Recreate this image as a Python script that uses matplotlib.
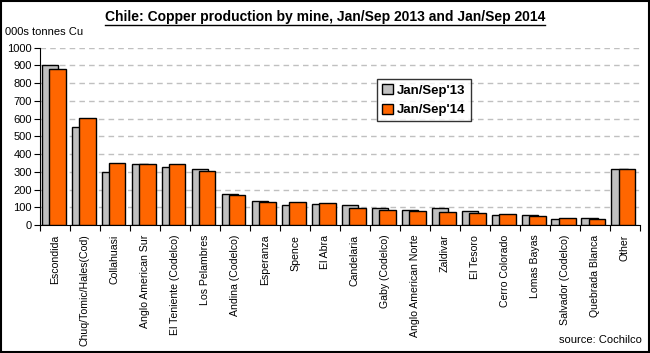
import matplotlib
matplotlib.use("Agg")
import matplotlib.pyplot as plt
import numpy as np

# mine names and production (000s tonnes Cu), Jan/Sep 2013 vs Jan/Sep 2014
mines = ["Escondida", "Chuq/Tomic/Hales(Cod)", "Collahuasi", "Anglo American Sur",
         "El Teniente (Codelco)", "Los Pelambres", "Andina (Codelco)", "Esperanza",
         "Spence", "El Abra", "Candelaria", "Gaby (Codelco)", "Anglo American Norte",
         "Zaldivar", "El Tesoro", "Cerro Colorado", "Lomas Bayas", "Salvador (Codelco)",
         "Quebrada Blanca", "Other"]
prod_2013 = [900, 551, 297, 342, 325, 314, 173, 133, 111, 116,
             111, 94, 83, 94, 77, 54, 54, 32, 38, 314]
prod_2014 = [877, 601, 348, 342, 342, 303, 167, 128, 128, 122,
             94, 83, 77, 71, 66, 60, 49, 38, 32, 314]
yticks = np.arange(0, 1001, 100)

plt.rcParams['font.family'] = ['Liberation Sans', 'DejaVu Sans']

fig = plt.figure(figsize=(6.5, 3.53), dpi=100, facecolor='w')
ax = fig.add_axes([40/650, 1-225/353, 600/650, 177.4/353])

x = np.arange(len(mines))
w = 0.56
ax.bar(x - 0.17, prod_2013, w, color='#C0C0C0', edgecolor='black', linewidth=1,
       label="Jan/Sep'13", zorder=2)
ax.bar(x + 0.07, prod_2014, w, color='#FF6600', edgecolor='black', linewidth=1,
       label="Jan/Sep'14", zorder=3)

ax.set_xlim(-0.5, len(mines) - 0.5)
ax.set_ylim(0, 1000)
ax.set_yticks(yticks)
ax.tick_params(axis='y', labelsize=8, length=4, direction='out', pad=2)
ax.yaxis.grid(True, linestyle=(0, (4, 3)), color='#C0C0C0', linewidth=1, zorder=0)
ax.set_axisbelow(True)

# category ticks between bars, labels centred under each group
ax.set_xticks(np.arange(-0.5, len(mines), 1.0))
ax.set_xticklabels([])
ax.set_xticks(x, minor=True)
ax.set_xticklabels(mines, minor=True, rotation=90, fontsize=7.6, va='top')
ax.tick_params(axis='x', which='major', length=4, direction='out')
ax.tick_params(axis='x', which='minor', length=0, pad=7)

for s in ['top', 'right']:
    ax.spines[s].set_visible(False)

leg = ax.legend(loc='upper left', bbox_to_anchor=(337/600, (225-79)/177.4),
                borderaxespad=0, frameon=True, fancybox=False, edgecolor='black',
                prop={'weight': 'bold', 'size': 9.5}, handlelength=0.8,
                handleheight=0.8, handletextpad=0.3, borderpad=0.4, labelspacing=0.5)
leg.get_frame().set_linewidth(1)

title = fig.text(0.5, 1-17/353, "Chile: Copper production by mine, Jan/Sep 2013 and Jan/Sep 2014",
                 ha='center', va='center', fontsize=10, fontweight='bold')
fig.text(5/650, 1-32/353, "000s tonnes Cu", ha='left', va='center', fontsize=8)
fig.text(642/650, 1-340/353, "source: Cochilco", ha='right', va='center', fontsize=8)

# underline the title using its rendered extent
fig.canvas.draw()
bb = title.get_window_extent().transformed(fig.transFigure.inverted())
fig.add_artist(plt.Line2D([bb.x0, bb.x1], [bb.y0 - 0.004, bb.y0 - 0.004],
                          color='black', linewidth=1))

# outer border
fig.add_artist(plt.Rectangle((0.001, 0.002), 0.997, 0.996, transform=fig.transFigure,
                             fill=False, edgecolor='black', linewidth=1.5))

fig.savefig("out.png", dpi=100, facecolor='w')
